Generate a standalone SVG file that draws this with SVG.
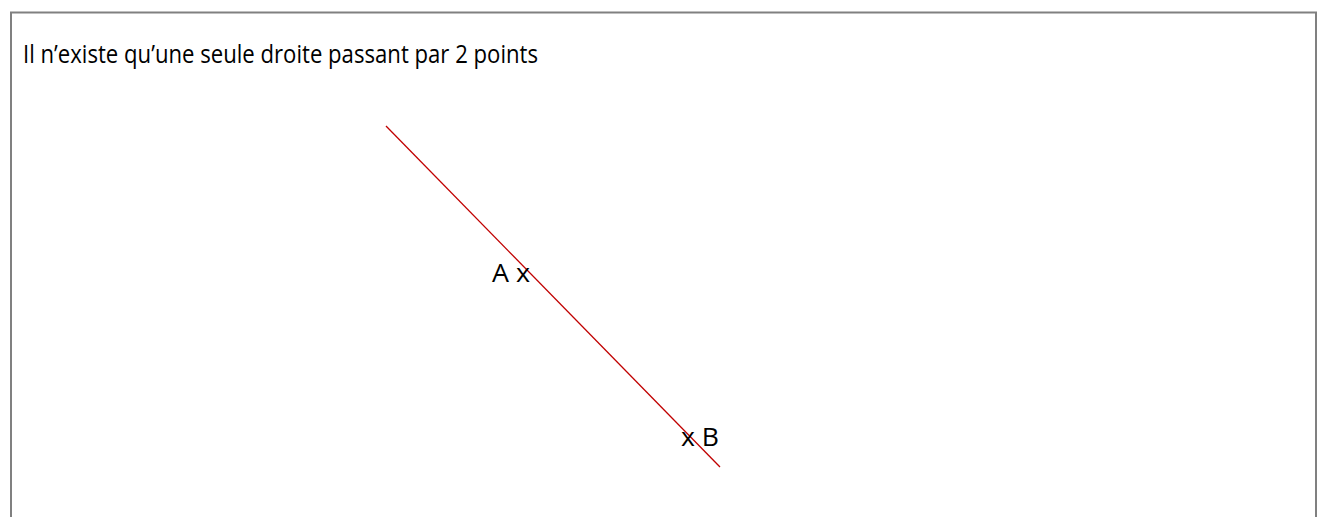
<svg xmlns="http://www.w3.org/2000/svg" width="1322" height="517" viewBox="0 0 1322 517">
<style>
.lbl{font-family:"Open Sans","Liberation Sans",sans-serif;font-size:25px;fill:#000}
.pt{font-size:26px}
</style>
<rect x="0" y="0" width="1322" height="517" fill="#fff"/>
<path d="M11 517 V12.5 H1316 V517" fill="none" stroke="#808080" stroke-width="2"/>
<text class="lbl" x="23" y="63" textLength="515" lengthAdjust="spacingAndGlyphs">Il n’existe qu’une seule droite passant par 2 points</text>
<g id="connectors">
<line x1="386" y1="126" x2="720" y2="467" stroke="#c00000" stroke-width="1.3"/>
</g>
<g id="A"><text class="lbl pt" x="492" y="282" textLength="38" lengthAdjust="spacingAndGlyphs">A x</text></g>
<g id="B"><text class="lbl pt" x="681" y="446" textLength="38" lengthAdjust="spacingAndGlyphs">x B</text></g>
</svg>
